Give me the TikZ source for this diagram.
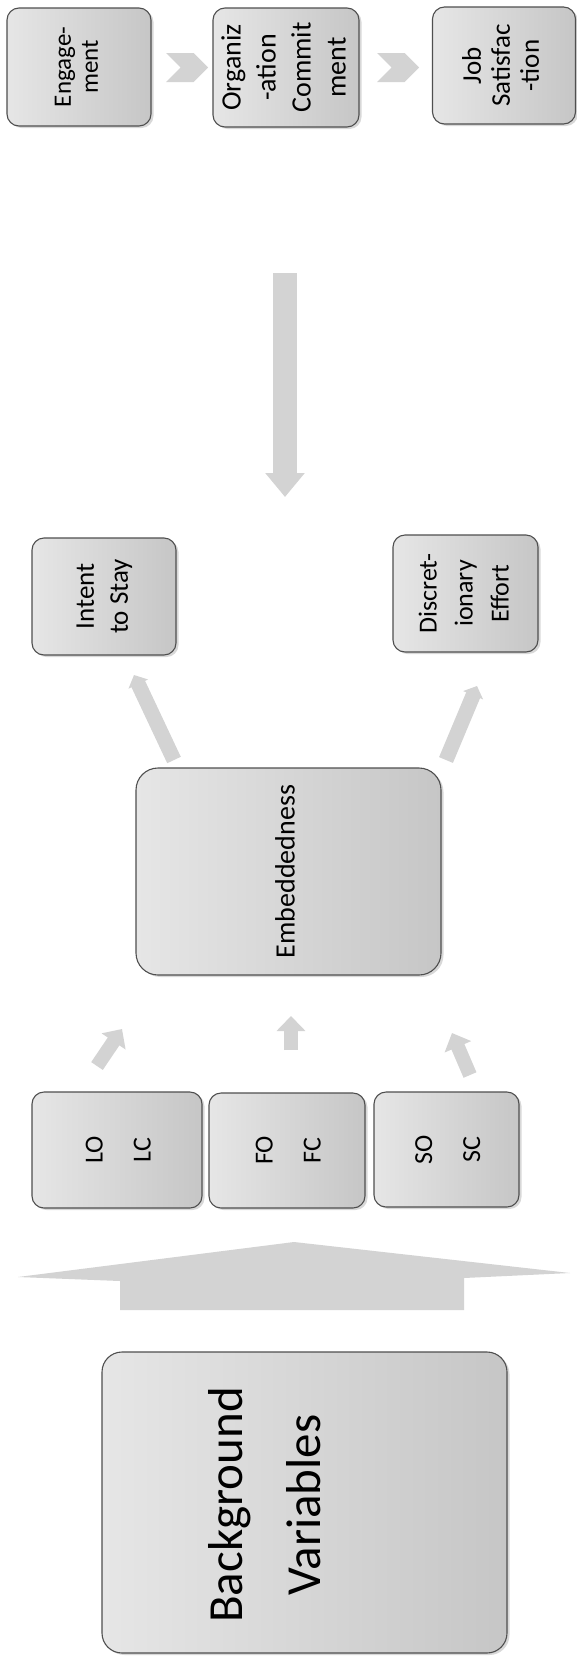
\documentclass[tikz,border=0pt]{standalone}
\usepackage{fontspec}
\setmainfont{Carlito}
\usetikzlibrary{arrows.meta,shadows,shapes.arrows,shapes.symbols}
\definecolor{boxline}{HTML}{4F4F4F}
\definecolor{boxlight}{HTML}{E6E6E6}
\definecolor{boxdark}{HTML}{C6C6C6}
\definecolor{arrowgray}{HTML}{D3D3D3}
\newcommand{\rt}[1]{\rotatebox{90}{\begin{tabular}{@{}c@{}}#1\end{tabular}}}
\begin{document}
\begin{tikzpicture}[x=1pt,y=-1pt,
  box/.style={draw=boxline, line width=1.1pt, rounded corners=12pt,
    left color=boxlight, right color=boxdark, inner sep=0pt,
    drop shadow={shadow xshift=2.5pt, shadow yshift=-2pt, opacity=0.3}},
  fatarrow/.style={draw=arrowgray, line width=#1},
  chev/.style={signal, signal from=west, signal to=east, fill=arrowgray,
    draw=none, minimum width=42pt, minimum height=29pt, inner sep=0pt}
]
\useasboundingbox[fill=white] (0,0) rectangle (577,1657);

% top row
\node[box, minimum width=144pt, minimum height=118pt, font=\fontsize{25}{27}\selectfont] (eng) at (79,67) {\rt{Engage-\\ment}};
\node[box, minimum width=146pt, minimum height=119pt, font=\fontsize{28}{35}\selectfont] (org) at (286,67.5) {\rt{Organiz\\-ation\\Commit\\ment}};
\node[box, minimum width=143pt, minimum height=117pt, font=\fontsize{27}{29}\selectfont] (job) at (504,65.5) {\rt{Job\\Satisfac\\-tion}};
\node[chev] (ch1) at (187,67.5) {};
\node[chev] (ch2) at (398,67.5) {};

% long arrow
\coordinate (la1) at (285,273);
\coordinate (la2) at (285,497);
\draw[fatarrow=24pt, -{Triangle[length=24pt,width=38pt]}] (la1) -- (la2);

% middle row
\node[box, minimum width=144pt, minimum height=117pt, font=\fontsize{27}{34}\selectfont] (intent) at (104,596.5) {\rt{Intent\\to Stay}};
\node[box, minimum width=145pt, minimum height=117pt, font=\fontsize{26}{36}\selectfont] (disc) at (465.5,593.5) {\rt{Discret-\\ionary\\Effort}};

\node[box, rounded corners=22pt, minimum width=305pt, minimum height=207pt, font=\fontsize{28}{30}\selectfont] (emb) at (288.5,871.5) {\rt{Embeddedness}};

\coordinate (ei1) at (174,760);
\coordinate (ei2) at (134,675);
\draw[fatarrow=15pt, -{Triangle[length=10pt,width=21pt]}] (ei1) -- (ei2);
\coordinate (ed1) at (446,760);
\coordinate (ed2) at (477,686);
\draw[fatarrow=15pt, -{Triangle[length=10pt,width=21pt]}] (ed1) -- (ed2);

% lower row
\node[box, minimum width=170pt, minimum height=116pt, font=\fontsize{26}{48}\selectfont] (lo) at (117,1150) {\rt{LO\\LC}};
\node[box, minimum width=156pt, minimum height=115pt, font=\fontsize{26}{48}\selectfont] (fo) at (287,1150.5) {\rt{FO\\FC}};
\node[box, minimum width=145pt, minimum height=115pt, font=\fontsize{26}{48}\selectfont] (so) at (446.5,1149.5) {\rt{SO\\SC}};

\coordinate (le1) at (97,1066);
\coordinate (le2) at (122,1029);
\draw[fatarrow=14pt, -{Triangle[length=15pt,width=28pt]}] (le1) -- (le2);
\coordinate (fe1) at (291,1050);
\coordinate (fe2) at (291,1016);
\draw[fatarrow=14pt, -{Triangle[length=15pt,width=28pt]}] (fe1) -- (fe2);
\coordinate (se1) at (470,1075);
\coordinate (se2) at (452,1033);
\draw[fatarrow=14pt, -{Triangle[length=15pt,width=28pt]}] (se1) -- (se2);

% big arrow
\fill[arrowgray] (18,1277) -- (294,1242) -- (570,1273) -- (464,1278)
  -- (464,1310) -- (120,1310) -- (120,1281) -- cycle;

% background
\node[box, rounded corners=20pt, minimum width=405pt, minimum height=301pt] (bg) at (304.5,1502.5) {};
\node[font=\fontsize{49}{78}\selectfont, inner sep=0pt] (bgt) at (266,1505) {\rt{Background\\Variables}};
\end{tikzpicture}
\end{document}
